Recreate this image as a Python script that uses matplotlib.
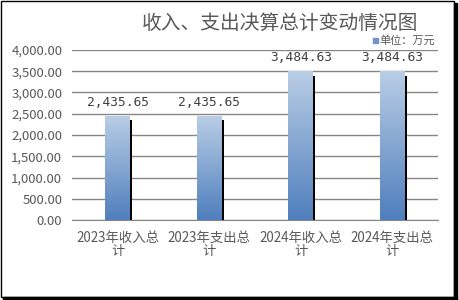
import numpy as np
import matplotlib.pyplot as plt
from matplotlib.patches import Rectangle
from matplotlib.colors import LinearSegmentedColormap

plt.rcParams['font.family'] = ['Noto Sans CJK SC', 'DejaVu Sans']

categories = ["2023年收入总\n计", "2023年支出总\n计", "2024年收入总\n计", "2024年支出总\n计"]
values = [2435.65, 2435.65, 3484.63, 3484.63]
value_labels = ["2,435.65", "2,435.65", "3,484.63", "3,484.63"]
yticks = [0, 500, 1000, 1500, 2000, 2500, 3000, 3500, 4000]
ytick_labels = ["0.00", "500.00", "1,000.00", "1,500.00", "2,000.00",
                "2,500.00", "3,000.00", "3,500.00", "4,000.00"]

text_col = "#595959"
grid_col = "#868686"
grad = LinearSegmentedColormap.from_list("bar", ["#4f7fbd", "#b9cde5"])

fig = plt.figure(figsize=(4.59, 3.0), dpi=100)
ax = fig.add_axes([72/459, 1 - 220/300, 366/459, 170/300])

x = np.arange(len(values))
w = 0.27
for xi, v, lab in zip(x, values, value_labels):
	# drop shadow
	ax.bar(xi + w/2 + 0.012, v - 90, width=0.028, bottom=0, color="black", zorder=2)
	# gradient fill
	ax.imshow(np.linspace(0, 1, 100).reshape(-1, 1), cmap=grad, origin="lower",
	          extent=(xi - w/2, xi + w/2, 0, v), aspect="auto", zorder=3)
	ax.text(xi, v + 330, lab, ha="center", va="center", fontsize=9.3,
	        color="#404040", family="DejaVu Sans Mono")

ax.set_xlim(-0.5, len(values) - 0.5)
ax.set_ylim(0, 4000)
ax.set_yticks(yticks)
ax.set_yticklabels(ytick_labels, fontsize=9.5, color=text_col)
ax.set_xticks(x)
ax.set_xticklabels(categories, fontsize=9.6, color=text_col, linespacing=0.9)
ax.tick_params(length=0, pad=7)
ax.tick_params(axis="x", pad=8)
ax.yaxis.grid(True, color=grid_col, linewidth=1)
ax.set_axisbelow(True)
for s in ["top", "right", "left"]:
	ax.spines[s].set_visible(False)
ax.spines["bottom"].set_color(grid_col)

fig.text(280/459, 1 - 23/300, "收入、支出决算总计变动情况图", ha="center", va="center",
         fontsize=14.2, color=text_col)
fig.patches.append(Rectangle((373/459, 1 - 43/300), 5/459, 5/300,
                             transform=fig.transFigure, color="#6f95c8", figure=fig))
fig.text(379/459, 1 - 40/300, "单位：万元", ha="left", va="center",
         fontsize=8, color=text_col)

# outer frame with shadow
fig.patches.append(Rectangle((1/459, 3/300), 453/459, 296/300, transform=fig.transFigure,
                             fill=False, edgecolor="black", linewidth=1, figure=fig))
fig.patches.append(Rectangle((454/459, 0), 3/459, 297/300, transform=fig.transFigure,
                             color="black", figure=fig))
fig.patches.append(Rectangle((3/459, 0), 454/459, 3/300, transform=fig.transFigure,
                             color="black", figure=fig))

plt.savefig("out.png", dpi=100)
